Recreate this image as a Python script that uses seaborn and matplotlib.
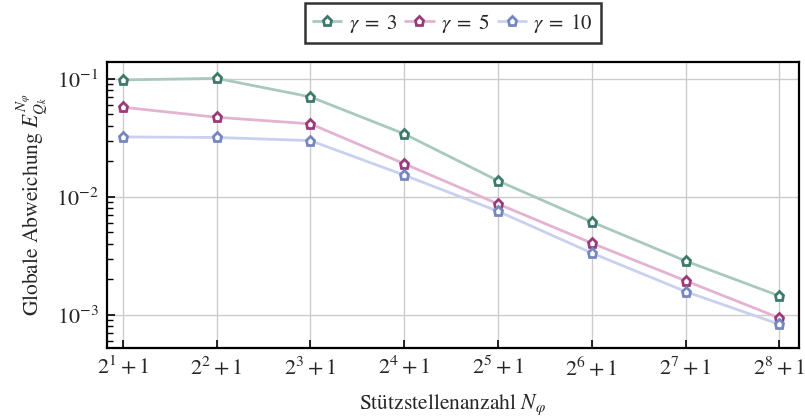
import numpy as np
import pandas as pd
import matplotlib
matplotlib.use("Agg")
import matplotlib.pyplot as plt
import seaborn as sns

exponents = [1, 2, 3, 4, 5, 6, 7, 8]
tick_labels = [f"$2^{{{e}}}+1$" for e in exponents]
gamma3 = [0.098, 0.101, 0.0704, 0.0342, 0.0137, 0.00614, 0.00287, 0.00145]
gamma5 = [0.0575, 0.0473, 0.0416, 0.0191, 0.00873, 0.00406, 0.00195, 0.000944]
gamma10 = [0.0322, 0.0319, 0.0300, 0.0153, 0.00757, 0.00335, 0.00158, 0.000834]
series_names = [r"$\gamma\;=\;3$", r"$\gamma\;=\;5$", r"$\gamma\;=\;10$"]

line_colors = ["#a9c9bd", "#e3b3d2", "#c9d1ee"]
edge_colors = ["#3d7a6b", "#9a3b79", "#7687bf"]

sns.set_theme(style="whitegrid")
plt.rcParams["font.family"] = ["STIXGeneral", "DejaVu Serif"]
plt.rcParams["mathtext.fontset"] = "stix"

df = pd.DataFrame({
    "exp": exponents * 3,
    "val": gamma3 + gamma5 + gamma10,
    "series": [series_names[0]] * 8 + [series_names[1]] * 8 + [series_names[2]] * 8,
})

fig = plt.figure(figsize=(8.05, 4.16), dpi=100)
ax = fig.add_axes([107 / 805, 1 - 348 / 416, (799 - 107) / 805, (348 - 62) / 416])

for i, name in enumerate(series_names):
    sub = df[df["series"] == name]
    sns.lineplot(data=sub, x="exp", y="val", ax=ax, color=line_colors[i], lw=2.0,
                 marker="p", markersize=6.8, markerfacecolor="white",
                 markeredgecolor=edge_colors[i], markeredgewidth=2.0, label=name)

ax.set_yscale("log")
ax.set_xlim(0.83, 8.21)
ax.set_ylim(5.25e-4, 0.139)
ax.set_xticks(exponents)
ax.set_xticklabels(tick_labels)
ax.grid(True, which="major", color="#cccccc", lw=1.0)
ax.grid(False, which="minor")
for s in ax.spines.values():
    s.set_color("black")
    s.set_linewidth(1.6)
ax.tick_params(axis="both", which="major", direction="in", length=6, width=1.2,
               color="black", labelsize=16, pad=6, bottom=True, left=True)
ax.tick_params(axis="y", which="minor", direction="in", length=4, width=1.0,
               color="black", left=True)
ax.set_xlabel(r"Stützstellenanzahl $N_\varphi$", fontsize=15.5, labelpad=9)
ax.set_ylabel(r"Globale Abweichung $E_{Q_k}^{N_\varphi}$", fontsize=15.5, labelpad=4)

leg = ax.legend(loc="lower center", bbox_to_anchor=(0.5, 1.03), ncol=3, fontsize=15,
                frameon=True, fancybox=False, handlelength=1.35, columnspacing=0.4,
                handletextpad=0.35, borderpad=0.4)
leg.get_frame().set_edgecolor("black")
leg.get_frame().set_linewidth(1.8)

fig.savefig("out.png", dpi=100)
